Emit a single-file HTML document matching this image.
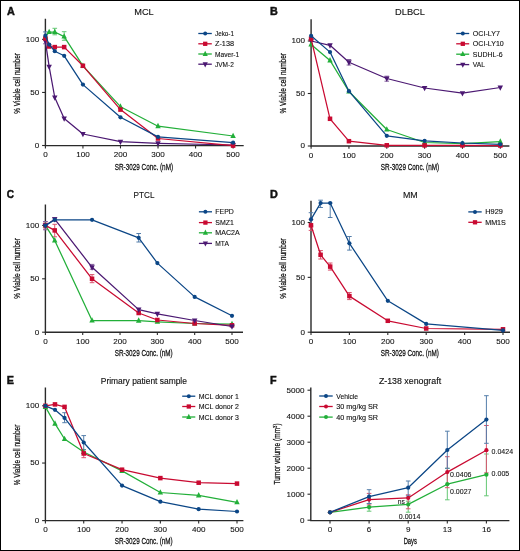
<!DOCTYPE html><html><head><meta charset="utf-8"><style>html,body{margin:0;padding:0;background:#fff}svg{display:block;will-change:transform}</style></head><body>
<svg width="520" height="551" viewBox="0 0 520 551" font-family="Liberation Sans, sans-serif">
<rect x="0" y="0" width="520" height="551" fill="#fff"/>
<rect x="0.5" y="0.5" width="519" height="550" fill="none" stroke="#000" stroke-width="1"/>
<text x="7" y="15" font-size="10.8" stroke="#111" stroke-width="0.45" font-weight="bold" fill="#111">A</text>
<text x="144" y="15.4" font-size="9.8" stroke="#111" stroke-width="0.12" text-anchor="middle" textLength="19.5" lengthAdjust="spacingAndGlyphs" fill="#111">MCL</text>
<path d="M45.4 18.8V145.6H243.7" stroke="#2a2a2a" stroke-width="1.4" fill="none"/>
<path d="M45.4 145.6V148.4" stroke="#2a2a2a" stroke-width="1.1"/>
<text x="45.4" y="157" font-size="8.1" stroke="#111" stroke-width="0.1" text-anchor="middle" fill="#111">0</text>
<path d="M82.94 145.6V148.4" stroke="#2a2a2a" stroke-width="1.1"/>
<text x="82.94" y="157" font-size="8.1" stroke="#111" stroke-width="0.1" text-anchor="middle" fill="#111">100</text>
<path d="M120.48 145.6V148.4" stroke="#2a2a2a" stroke-width="1.1"/>
<text x="120.48" y="157" font-size="8.1" stroke="#111" stroke-width="0.1" text-anchor="middle" fill="#111">200</text>
<path d="M158.02 145.6V148.4" stroke="#2a2a2a" stroke-width="1.1"/>
<text x="158.02" y="157" font-size="8.1" stroke="#111" stroke-width="0.1" text-anchor="middle" fill="#111">300</text>
<path d="M195.56 145.6V148.4" stroke="#2a2a2a" stroke-width="1.1"/>
<text x="195.56" y="157" font-size="8.1" stroke="#111" stroke-width="0.1" text-anchor="middle" fill="#111">400</text>
<path d="M233.1 145.6V148.4" stroke="#2a2a2a" stroke-width="1.1"/>
<text x="233.1" y="157" font-size="8.1" stroke="#111" stroke-width="0.1" text-anchor="middle" fill="#111">500</text>
<path d="M45.4 145.5H42.1" stroke="#2a2a2a" stroke-width="1.1"/>
<text x="39.2" y="147.8" font-size="8.1" stroke="#111" stroke-width="0.1" text-anchor="end" fill="#111">0</text>
<path d="M45.4 92.45H42.1" stroke="#2a2a2a" stroke-width="1.1"/>
<text x="39.2" y="94.75" font-size="8.1" stroke="#111" stroke-width="0.1" text-anchor="end" fill="#111">50</text>
<path d="M45.4 39.4H42.1" stroke="#2a2a2a" stroke-width="1.1"/>
<text x="39.2" y="41.7" font-size="8.1" stroke="#111" stroke-width="0.1" text-anchor="end" fill="#111">100</text>
<text x="20" y="83.4" font-size="9.9" stroke="#111" stroke-width="0.28" text-anchor="middle" textLength="60.7" lengthAdjust="spacingAndGlyphs" transform="rotate(-90 20 83.4)" fill="#111">% Viable cell number</text>
<text x="143.9" y="170" font-size="9.9" stroke="#111" stroke-width="0.28" text-anchor="middle" textLength="58.3" lengthAdjust="spacingAndGlyphs" fill="#111">SR-3029 Conc. (nM)</text>
<path d="M45.4 38.5V43.8M43.1 38.5H47.7M43.1 43.8H47.7" stroke="#815d9c" stroke-width="1" fill="none"/>
<path d="M54.78 28.3V34.8M52.48 28.3H57.08M52.48 34.8H57.08" stroke="#64c774" stroke-width="1" fill="none"/>
<path d="M64.17 31.7V40.3M61.87 31.7H66.47M61.87 40.3H66.47" stroke="#64c774" stroke-width="1" fill="none"/>
<path d="M45.4 31.9V38M43.1 31.9H47.7M43.1 38H47.7" stroke="#547eaa" stroke-width="1" fill="none"/>
<path d="M45.4 41.3 L49.15 66.7 L54.78 97.5 L64.17 118.5 L82.94 134 L120.48 141.7 L158.02 143.3 L233.1 145" fill="none" stroke="#4b1872" stroke-width="1.25" stroke-linejoin="round"/>
<path d="M45.4 44.66L48.13 39.3L42.67 39.3Z" fill="#4b1872"/>
<path d="M49.15 70.06L51.88 64.7L46.42 64.7Z" fill="#4b1872"/>
<path d="M54.78 100.86L57.52 95.5L52.05 95.5Z" fill="#4b1872"/>
<path d="M64.17 121.86L66.9 116.5L61.44 116.5Z" fill="#4b1872"/>
<path d="M82.94 137.36L85.67 132L80.21 132Z" fill="#4b1872"/>
<path d="M120.48 145.06L123.21 139.7L117.75 139.7Z" fill="#4b1872"/>
<path d="M158.02 146.66L160.75 141.31L155.29 141.31Z" fill="#4b1872"/>
<path d="M233.1 148.36L235.83 143L230.37 143Z" fill="#4b1872"/>
<path d="M45.4 36.5 L49.15 32 L54.78 32 L64.17 36.6 L82.94 65.8 L120.48 106.7 L158.02 126.2 L233.1 136" fill="none" stroke="#22af39" stroke-width="1.25" stroke-linejoin="round"/>
<path d="M45.4 33.14L48.13 38.49L42.67 38.49Z" fill="#22af39"/>
<path d="M49.15 28.64L51.88 33.99L46.42 33.99Z" fill="#22af39"/>
<path d="M54.78 28.64L57.52 33.99L52.05 33.99Z" fill="#22af39"/>
<path d="M64.17 33.24L66.9 38.59L61.44 38.59Z" fill="#22af39"/>
<path d="M82.94 62.44L85.67 67.8L80.21 67.8Z" fill="#22af39"/>
<path d="M120.48 103.34L123.21 108.7L117.75 108.7Z" fill="#22af39"/>
<path d="M158.02 122.84L160.75 128.19L155.29 128.19Z" fill="#22af39"/>
<path d="M233.1 132.64L235.83 138L230.37 138Z" fill="#22af39"/>
<path d="M45.4 38.5 L49.15 46.5 L54.78 47.1 L64.17 47.1 L82.94 65.8 L120.48 109.6 L158.02 138.5 L233.1 145.6" fill="none" stroke="#c90a31" stroke-width="1.25" stroke-linejoin="round"/>
<rect x="43.14" y="36.24" width="4.51" height="4.51" fill="#c90a31"/>
<rect x="46.9" y="44.24" width="4.51" height="4.51" fill="#c90a31"/>
<rect x="52.53" y="44.84" width="4.51" height="4.51" fill="#c90a31"/>
<rect x="61.91" y="44.84" width="4.51" height="4.51" fill="#c90a31"/>
<rect x="80.68" y="63.54" width="4.51" height="4.51" fill="#c90a31"/>
<rect x="118.22" y="107.34" width="4.51" height="4.51" fill="#c90a31"/>
<rect x="155.76" y="136.24" width="4.51" height="4.51" fill="#c90a31"/>
<rect x="230.84" y="143.34" width="4.51" height="4.51" fill="#c90a31"/>
<path d="M45.4 35.7 L49.15 44.6 L54.78 51.2 L64.17 55.8 L82.94 84.6 L120.48 117.3 L158.02 136.9 L233.1 142.7" fill="none" stroke="#0b4686" stroke-width="1.25" stroke-linejoin="round"/>
<circle cx="45.4" cy="35.7" r="2.1" fill="#0b4686"/>
<circle cx="49.15" cy="44.6" r="2.1" fill="#0b4686"/>
<circle cx="54.78" cy="51.2" r="2.1" fill="#0b4686"/>
<circle cx="64.17" cy="55.8" r="2.1" fill="#0b4686"/>
<circle cx="82.94" cy="84.6" r="2.1" fill="#0b4686"/>
<circle cx="120.48" cy="117.3" r="2.1" fill="#0b4686"/>
<circle cx="158.02" cy="136.9" r="2.1" fill="#0b4686"/>
<circle cx="233.1" cy="142.7" r="2.1" fill="#0b4686"/>
<path d="M198.3 33.5H211.8" stroke="#0b4686" stroke-width="1.3"/>
<circle cx="205.2" cy="33.5" r="1.99" fill="#0b4686"/>
<text x="215" y="36" font-size="7.8" stroke="#111" stroke-width="0.12" textLength="19" lengthAdjust="spacingAndGlyphs" fill="#111">Jeko-1</text>
<path d="M198.3 43.8H211.8" stroke="#c90a31" stroke-width="1.3"/>
<rect x="203.06" y="41.66" width="4.29" height="4.29" fill="#c90a31"/>
<text x="215" y="46.3" font-size="7.8" stroke="#111" stroke-width="0.12" textLength="19" lengthAdjust="spacingAndGlyphs" fill="#111">Z-138</text>
<path d="M198.3 54H211.8" stroke="#22af39" stroke-width="1.3"/>
<path d="M205.2 50.81L207.79 55.9L202.61 55.9Z" fill="#22af39"/>
<text x="215" y="56.5" font-size="7.8" stroke="#111" stroke-width="0.12" textLength="24.2" lengthAdjust="spacingAndGlyphs" fill="#111">Maver-1</text>
<path d="M198.3 64.2H211.8" stroke="#4b1872" stroke-width="1.3"/>
<path d="M205.2 67.39L207.79 62.3L202.61 62.3Z" fill="#4b1872"/>
<text x="215" y="66.7" font-size="7.8" stroke="#111" stroke-width="0.12" textLength="18.8" lengthAdjust="spacingAndGlyphs" fill="#111">JVM-2</text>
<text x="270" y="15" font-size="10.8" stroke="#111" stroke-width="0.45" font-weight="bold" fill="#111">B</text>
<text x="410" y="15.4" font-size="9.8" stroke="#111" stroke-width="0.12" text-anchor="middle" textLength="30" lengthAdjust="spacingAndGlyphs" fill="#111">DLBCL</text>
<path d="M311.1 19.2V146H509.4" stroke="#2a2a2a" stroke-width="1.4" fill="none"/>
<path d="M311.1 146V148.8" stroke="#2a2a2a" stroke-width="1.1"/>
<text x="311.1" y="157.6" font-size="8.1" stroke="#111" stroke-width="0.1" text-anchor="middle" fill="#111">0</text>
<path d="M348.94 146V148.8" stroke="#2a2a2a" stroke-width="1.1"/>
<text x="348.94" y="157.6" font-size="8.1" stroke="#111" stroke-width="0.1" text-anchor="middle" fill="#111">100</text>
<path d="M386.78 146V148.8" stroke="#2a2a2a" stroke-width="1.1"/>
<text x="386.78" y="157.6" font-size="8.1" stroke="#111" stroke-width="0.1" text-anchor="middle" fill="#111">200</text>
<path d="M424.62 146V148.8" stroke="#2a2a2a" stroke-width="1.1"/>
<text x="424.62" y="157.6" font-size="8.1" stroke="#111" stroke-width="0.1" text-anchor="middle" fill="#111">300</text>
<path d="M462.46 146V148.8" stroke="#2a2a2a" stroke-width="1.1"/>
<text x="462.46" y="157.6" font-size="8.1" stroke="#111" stroke-width="0.1" text-anchor="middle" fill="#111">400</text>
<path d="M500.3 146V148.8" stroke="#2a2a2a" stroke-width="1.1"/>
<text x="500.3" y="157.6" font-size="8.1" stroke="#111" stroke-width="0.1" text-anchor="middle" fill="#111">500</text>
<path d="M311.1 146H307.8" stroke="#2a2a2a" stroke-width="1.1"/>
<text x="304.9" y="148.3" font-size="8.1" stroke="#111" stroke-width="0.1" text-anchor="end" fill="#111">0</text>
<path d="M311.1 93.5H307.8" stroke="#2a2a2a" stroke-width="1.1"/>
<text x="304.9" y="95.8" font-size="8.1" stroke="#111" stroke-width="0.1" text-anchor="end" fill="#111">50</text>
<path d="M311.1 41H307.8" stroke="#2a2a2a" stroke-width="1.1"/>
<text x="304.9" y="43.3" font-size="8.1" stroke="#111" stroke-width="0.1" text-anchor="end" fill="#111">100</text>
<text x="285.9" y="83.3" font-size="9.9" stroke="#111" stroke-width="0.28" text-anchor="middle" textLength="60.4" lengthAdjust="spacingAndGlyphs" transform="rotate(-90 285.9 83.3)" fill="#111">% Viable cell number</text>
<text x="410" y="169.9" font-size="9.9" stroke="#111" stroke-width="0.28" text-anchor="middle" textLength="58.4" lengthAdjust="spacingAndGlyphs" fill="#111">SR-3029 Conc. (nM)</text>
<path d="M348.94 59.5V65M346.64 59.5H351.24M346.64 65H351.24" stroke="#815d9c" stroke-width="1" fill="none"/>
<path d="M386.78 76.2V81.2M384.48 76.2H389.08M384.48 81.2H389.08" stroke="#815d9c" stroke-width="1" fill="none"/>
<path d="M311.1 41 L330.02 45.3 L348.94 62.3 L386.78 78.5 L424.62 88 L462.46 93.2 L500.3 87.5" fill="none" stroke="#4b1872" stroke-width="1.25" stroke-linejoin="round"/>
<path d="M311.1 44.36L313.83 39.01L308.37 39.01Z" fill="#4b1872"/>
<path d="M330.02 48.66L332.75 43.3L327.29 43.3Z" fill="#4b1872"/>
<path d="M348.94 65.66L351.67 60.3L346.21 60.3Z" fill="#4b1872"/>
<path d="M386.78 81.86L389.51 76.5L384.05 76.5Z" fill="#4b1872"/>
<path d="M424.62 91.36L427.35 86L421.89 86Z" fill="#4b1872"/>
<path d="M462.46 96.56L465.19 91.2L459.73 91.2Z" fill="#4b1872"/>
<path d="M500.3 90.86L503.03 85.5L497.57 85.5Z" fill="#4b1872"/>
<path d="M311.1 44.4 L330.02 60.4 L348.94 91.5 L386.78 129.5 L424.62 142.5 L462.46 143.7 L500.3 141.7" fill="none" stroke="#22af39" stroke-width="1.25" stroke-linejoin="round"/>
<path d="M311.1 41.04L313.83 46.39L308.37 46.39Z" fill="#22af39"/>
<path d="M330.02 57.04L332.75 62.39L327.29 62.39Z" fill="#22af39"/>
<path d="M348.94 88.14L351.67 93.5L346.21 93.5Z" fill="#22af39"/>
<path d="M386.78 126.14L389.51 131.5L384.05 131.5Z" fill="#22af39"/>
<path d="M424.62 139.14L427.35 144.5L421.89 144.5Z" fill="#22af39"/>
<path d="M462.46 140.34L465.19 145.69L459.73 145.69Z" fill="#22af39"/>
<path d="M500.3 138.34L503.03 143.69L497.57 143.69Z" fill="#22af39"/>
<path d="M311.1 38.7 L330.02 118.8 L348.94 141.2 L386.78 145.3 L424.62 145.4 L462.46 145.4 L500.3 145.5" fill="none" stroke="#c90a31" stroke-width="1.25" stroke-linejoin="round"/>
<rect x="308.84" y="36.44" width="4.51" height="4.51" fill="#c90a31"/>
<rect x="327.76" y="116.54" width="4.51" height="4.51" fill="#c90a31"/>
<rect x="346.68" y="138.94" width="4.51" height="4.51" fill="#c90a31"/>
<rect x="384.52" y="143.04" width="4.51" height="4.51" fill="#c90a31"/>
<rect x="422.36" y="143.14" width="4.51" height="4.51" fill="#c90a31"/>
<rect x="460.2" y="143.14" width="4.51" height="4.51" fill="#c90a31"/>
<rect x="498.04" y="143.24" width="4.51" height="4.51" fill="#c90a31"/>
<path d="M311.1 35.8 L330.02 52.1 L348.94 91.2 L386.78 135.8 L424.62 140.8 L462.46 143 L500.3 144.3" fill="none" stroke="#0b4686" stroke-width="1.25" stroke-linejoin="round"/>
<circle cx="311.1" cy="35.8" r="2.1" fill="#0b4686"/>
<circle cx="330.02" cy="52.1" r="2.1" fill="#0b4686"/>
<circle cx="348.94" cy="91.2" r="2.1" fill="#0b4686"/>
<circle cx="386.78" cy="135.8" r="2.1" fill="#0b4686"/>
<circle cx="424.62" cy="140.8" r="2.1" fill="#0b4686"/>
<circle cx="462.46" cy="143" r="2.1" fill="#0b4686"/>
<circle cx="500.3" cy="144.3" r="2.1" fill="#0b4686"/>
<path d="M456.2 33.5H469.2" stroke="#0b4686" stroke-width="1.3"/>
<circle cx="462.8" cy="33.5" r="1.99" fill="#0b4686"/>
<text x="472.8" y="36" font-size="7.8" stroke="#111" stroke-width="0.12" textLength="27.1" lengthAdjust="spacingAndGlyphs" fill="#111">OCI-LY7</text>
<path d="M456.2 43.8H469.2" stroke="#c90a31" stroke-width="1.3"/>
<rect x="460.66" y="41.66" width="4.29" height="4.29" fill="#c90a31"/>
<text x="472.8" y="46.3" font-size="7.8" stroke="#111" stroke-width="0.12" textLength="31" lengthAdjust="spacingAndGlyphs" fill="#111">OCI-LY10</text>
<path d="M456.2 54.2H469.2" stroke="#22af39" stroke-width="1.3"/>
<path d="M462.8 51.01L465.39 56.1L460.21 56.1Z" fill="#22af39"/>
<text x="472.8" y="56.7" font-size="7.8" stroke="#111" stroke-width="0.12" textLength="29.8" lengthAdjust="spacingAndGlyphs" fill="#111">SUDHL-6</text>
<path d="M456.2 64.6H469.2" stroke="#4b1872" stroke-width="1.3"/>
<path d="M462.8 67.79L465.39 62.7L460.21 62.7Z" fill="#4b1872"/>
<text x="472.8" y="67.1" font-size="7.8" stroke="#111" stroke-width="0.12" textLength="12.2" lengthAdjust="spacingAndGlyphs" fill="#111">VAL</text>
<text x="6.8" y="197.7" font-size="10.8" stroke="#111" stroke-width="0.45" textLength="7.3" lengthAdjust="spacingAndGlyphs" font-weight="bold" fill="#111">C</text>
<text x="144" y="197.5" font-size="9.8" stroke="#111" stroke-width="0.12" text-anchor="middle" textLength="20.9" lengthAdjust="spacingAndGlyphs" fill="#111">PTCL</text>
<path d="M45.4 204.6V332.2H243" stroke="#2a2a2a" stroke-width="1.4" fill="none"/>
<path d="M45.4 332.2V335" stroke="#2a2a2a" stroke-width="1.1"/>
<text x="45.4" y="343.6" font-size="8.1" stroke="#111" stroke-width="0.1" text-anchor="middle" fill="#111">0</text>
<path d="M82.72 332.2V335" stroke="#2a2a2a" stroke-width="1.1"/>
<text x="82.72" y="343.6" font-size="8.1" stroke="#111" stroke-width="0.1" text-anchor="middle" fill="#111">100</text>
<path d="M120.04 332.2V335" stroke="#2a2a2a" stroke-width="1.1"/>
<text x="120.04" y="343.6" font-size="8.1" stroke="#111" stroke-width="0.1" text-anchor="middle" fill="#111">200</text>
<path d="M157.36 332.2V335" stroke="#2a2a2a" stroke-width="1.1"/>
<text x="157.36" y="343.6" font-size="8.1" stroke="#111" stroke-width="0.1" text-anchor="middle" fill="#111">300</text>
<path d="M194.68 332.2V335" stroke="#2a2a2a" stroke-width="1.1"/>
<text x="194.68" y="343.6" font-size="8.1" stroke="#111" stroke-width="0.1" text-anchor="middle" fill="#111">400</text>
<path d="M232 332.2V335" stroke="#2a2a2a" stroke-width="1.1"/>
<text x="232" y="343.6" font-size="8.1" stroke="#111" stroke-width="0.1" text-anchor="middle" fill="#111">500</text>
<path d="M45.4 332.2H42.1" stroke="#2a2a2a" stroke-width="1.1"/>
<text x="39.2" y="334.5" font-size="8.1" stroke="#111" stroke-width="0.1" text-anchor="end" fill="#111">0</text>
<path d="M45.4 278.8H42.1" stroke="#2a2a2a" stroke-width="1.1"/>
<text x="39.2" y="281.1" font-size="8.1" stroke="#111" stroke-width="0.1" text-anchor="end" fill="#111">50</text>
<path d="M45.4 225.4H42.1" stroke="#2a2a2a" stroke-width="1.1"/>
<text x="39.2" y="227.7" font-size="8.1" stroke="#111" stroke-width="0.1" text-anchor="end" fill="#111">100</text>
<text x="20" y="268.5" font-size="9.9" stroke="#111" stroke-width="0.28" text-anchor="middle" textLength="60.7" lengthAdjust="spacingAndGlyphs" transform="rotate(-90 20 268.5)" fill="#111">% Viable cell number</text>
<text x="143.7" y="356.1" font-size="9.9" stroke="#111" stroke-width="0.28" text-anchor="middle" textLength="58" lengthAdjust="spacingAndGlyphs" fill="#111">SR-3029 Conc. (nM)</text>
<path d="M54.73 224.3V236.8M52.43 224.3H57.03M52.43 236.8H57.03" stroke="#d9546f" stroke-width="1" fill="none"/>
<path d="M92.05 274.6V282.7M89.75 274.6H94.35M89.75 282.7H94.35" stroke="#d9546f" stroke-width="1" fill="none"/>
<path d="M45.4 222V229M43.1 222H47.7M43.1 229H47.7" stroke="#d9546f" stroke-width="1" fill="none"/>
<path d="M45.4 221.5V229.8M43.1 221.5H47.7M43.1 229.8H47.7" stroke="#815d9c" stroke-width="1" fill="none"/>
<path d="M92.05 264.4V269.2M89.75 264.4H94.35M89.75 269.2H94.35" stroke="#815d9c" stroke-width="1" fill="none"/>
<path d="M54.73 217.5V221M52.43 217.5H57.03M52.43 221H57.03" stroke="#815d9c" stroke-width="1" fill="none"/>
<path d="M138.7 233.5V242M136.4 233.5H141M136.4 242H141" stroke="#547eaa" stroke-width="1" fill="none"/>
<path d="M45.4 225.4 L54.73 240.4 L92.05 320.6 L138.7 320.7 L157.36 321.8 L194.68 323.5 L232 324.2" fill="none" stroke="#22af39" stroke-width="1.25" stroke-linejoin="round"/>
<path d="M45.4 222.04L48.13 227.4L42.67 227.4Z" fill="#22af39"/>
<path d="M54.73 237.04L57.46 242.4L52 242.4Z" fill="#22af39"/>
<path d="M92.05 317.24L94.78 322.6L89.32 322.6Z" fill="#22af39"/>
<path d="M138.7 317.34L141.43 322.69L135.97 322.69Z" fill="#22af39"/>
<path d="M157.36 318.44L160.09 323.8L154.63 323.8Z" fill="#22af39"/>
<path d="M194.68 320.14L197.41 325.5L191.95 325.5Z" fill="#22af39"/>
<path d="M232 320.84L234.73 326.19L229.27 326.19Z" fill="#22af39"/>
<path d="M45.4 225.4 L54.73 230.4 L92.05 278.8 L138.7 313 L157.36 320 L194.68 323.5 L232 325.3" fill="none" stroke="#c90a31" stroke-width="1.25" stroke-linejoin="round"/>
<rect x="43.14" y="223.14" width="4.51" height="4.51" fill="#c90a31"/>
<rect x="52.47" y="228.14" width="4.51" height="4.51" fill="#c90a31"/>
<rect x="89.79" y="276.54" width="4.51" height="4.51" fill="#c90a31"/>
<rect x="136.44" y="310.74" width="4.51" height="4.51" fill="#c90a31"/>
<rect x="155.1" y="317.74" width="4.51" height="4.51" fill="#c90a31"/>
<rect x="192.42" y="321.24" width="4.51" height="4.51" fill="#c90a31"/>
<rect x="229.74" y="323.04" width="4.51" height="4.51" fill="#c90a31"/>
<path d="M45.4 225.4 L54.73 219.2 L92.05 267.3 L138.7 309.6 L157.36 313.8 L194.68 320.5 L232 326.5" fill="none" stroke="#4b1872" stroke-width="1.25" stroke-linejoin="round"/>
<path d="M45.4 228.76L48.13 223.41L42.67 223.41Z" fill="#4b1872"/>
<path d="M54.73 222.56L57.46 217.2L52 217.2Z" fill="#4b1872"/>
<path d="M92.05 270.66L94.78 265.31L89.32 265.31Z" fill="#4b1872"/>
<path d="M138.7 312.96L141.43 307.61L135.97 307.61Z" fill="#4b1872"/>
<path d="M157.36 317.16L160.09 311.81L154.63 311.81Z" fill="#4b1872"/>
<path d="M194.68 323.86L197.41 318.5L191.95 318.5Z" fill="#4b1872"/>
<path d="M232 329.86L234.73 324.5L229.27 324.5Z" fill="#4b1872"/>
<path d="M45.4 225.6 L54.73 219.8 L92.05 219.8 L138.7 237.8 L157.36 263.1 L194.68 296.9 L232 315.8" fill="none" stroke="#0b4686" stroke-width="1.25" stroke-linejoin="round"/>
<circle cx="45.4" cy="225.6" r="2.1" fill="#0b4686"/>
<circle cx="54.73" cy="219.8" r="2.1" fill="#0b4686"/>
<circle cx="92.05" cy="219.8" r="2.1" fill="#0b4686"/>
<circle cx="138.7" cy="237.8" r="2.1" fill="#0b4686"/>
<circle cx="157.36" cy="263.1" r="2.1" fill="#0b4686"/>
<circle cx="194.68" cy="296.9" r="2.1" fill="#0b4686"/>
<circle cx="232" cy="315.8" r="2.1" fill="#0b4686"/>
<path d="M198.9 211.8H212" stroke="#0b4686" stroke-width="1.3"/>
<circle cx="205.4" cy="211.8" r="1.99" fill="#0b4686"/>
<text x="215.3" y="214.3" font-size="7.8" stroke="#111" stroke-width="0.12" textLength="18.5" lengthAdjust="spacingAndGlyphs" fill="#111">FEPD</text>
<path d="M198.9 222.6H212" stroke="#c90a31" stroke-width="1.3"/>
<rect x="203.26" y="220.46" width="4.29" height="4.29" fill="#c90a31"/>
<text x="215.3" y="225.1" font-size="7.8" stroke="#111" stroke-width="0.12" textLength="18.5" lengthAdjust="spacingAndGlyphs" fill="#111">SMZ1</text>
<path d="M198.9 232.8H212" stroke="#22af39" stroke-width="1.3"/>
<path d="M205.4 229.61L207.99 234.7L202.81 234.7Z" fill="#22af39"/>
<text x="215.3" y="235.3" font-size="7.8" stroke="#111" stroke-width="0.12" textLength="24.4" lengthAdjust="spacingAndGlyphs" fill="#111">MAC2A</text>
<path d="M198.9 243.4H212" stroke="#4b1872" stroke-width="1.3"/>
<path d="M205.4 246.59L207.99 241.5L202.81 241.5Z" fill="#4b1872"/>
<text x="215.3" y="245.9" font-size="7.8" stroke="#111" stroke-width="0.12" textLength="13.6" lengthAdjust="spacingAndGlyphs" fill="#111">MTA</text>
<text x="270" y="197.8" font-size="10.8" stroke="#111" stroke-width="0.45" font-weight="bold" fill="#111">D</text>
<text x="410.3" y="197.7" font-size="9.8" stroke="#111" stroke-width="0.12" text-anchor="middle" textLength="14.8" lengthAdjust="spacingAndGlyphs" fill="#111">MM</text>
<path d="M311 200.8V332.2H510" stroke="#2a2a2a" stroke-width="1.4" fill="none"/>
<path d="M311 332.2V335" stroke="#2a2a2a" stroke-width="1.1"/>
<text x="311" y="343.6" font-size="8.1" stroke="#111" stroke-width="0.1" text-anchor="middle" fill="#111">0</text>
<path d="M349.4 332.2V335" stroke="#2a2a2a" stroke-width="1.1"/>
<text x="349.4" y="343.6" font-size="8.1" stroke="#111" stroke-width="0.1" text-anchor="middle" fill="#111">100</text>
<path d="M387.8 332.2V335" stroke="#2a2a2a" stroke-width="1.1"/>
<text x="387.8" y="343.6" font-size="8.1" stroke="#111" stroke-width="0.1" text-anchor="middle" fill="#111">200</text>
<path d="M426.2 332.2V335" stroke="#2a2a2a" stroke-width="1.1"/>
<text x="426.2" y="343.6" font-size="8.1" stroke="#111" stroke-width="0.1" text-anchor="middle" fill="#111">300</text>
<path d="M464.6 332.2V335" stroke="#2a2a2a" stroke-width="1.1"/>
<text x="464.6" y="343.6" font-size="8.1" stroke="#111" stroke-width="0.1" text-anchor="middle" fill="#111">400</text>
<path d="M503 332.2V335" stroke="#2a2a2a" stroke-width="1.1"/>
<text x="503" y="343.6" font-size="8.1" stroke="#111" stroke-width="0.1" text-anchor="middle" fill="#111">500</text>
<path d="M311 332.2H307.7" stroke="#2a2a2a" stroke-width="1.1"/>
<text x="304.9" y="334.5" font-size="8.1" stroke="#111" stroke-width="0.1" text-anchor="end" fill="#111">0</text>
<path d="M311 277.35H307.7" stroke="#2a2a2a" stroke-width="1.1"/>
<text x="304.9" y="279.65" font-size="8.1" stroke="#111" stroke-width="0.1" text-anchor="end" fill="#111">50</text>
<path d="M311 222.5H307.7" stroke="#2a2a2a" stroke-width="1.1"/>
<text x="304.9" y="224.8" font-size="8.1" stroke="#111" stroke-width="0.1" text-anchor="end" fill="#111">100</text>
<text x="285.9" y="268.5" font-size="9.9" stroke="#111" stroke-width="0.28" text-anchor="middle" textLength="60.4" lengthAdjust="spacingAndGlyphs" transform="rotate(-90 285.9 268.5)" fill="#111">% Viable cell number</text>
<text x="409.8" y="356.1" font-size="9.9" stroke="#111" stroke-width="0.28" text-anchor="middle" textLength="58" lengthAdjust="spacingAndGlyphs" fill="#111">SR-3029 Conc. (nM)</text>
<path d="M311 219.4V230.4M308.7 219.4H313.3M308.7 230.4H313.3" stroke="#d9546f" stroke-width="1" fill="none"/>
<path d="M320.6 250.6V259M318.3 250.6H322.9M318.3 259H322.9" stroke="#d9546f" stroke-width="1" fill="none"/>
<path d="M330.2 263V270.1M327.9 263H332.5M327.9 270.1H332.5" stroke="#d9546f" stroke-width="1" fill="none"/>
<path d="M349.4 292.5V299.6M347.1 292.5H351.7M347.1 299.6H351.7" stroke="#d9546f" stroke-width="1" fill="none"/>
<path d="M311 212.7V226M308.7 212.7H313.3M308.7 226H313.3" stroke="#547eaa" stroke-width="1" fill="none"/>
<path d="M320.6 200.2V207.5M318.3 200.2H322.9M318.3 207.5H322.9" stroke="#547eaa" stroke-width="1" fill="none"/>
<path d="M330.2 203.1V217.5M327.9 203.1H332.5M327.9 217.5H332.5" stroke="#547eaa" stroke-width="1" fill="none"/>
<path d="M349.4 236.5V250.1M347.1 236.5H351.7M347.1 250.1H351.7" stroke="#547eaa" stroke-width="1" fill="none"/>
<path d="M311 225.3 L320.6 254.8 L330.2 266.6 L349.4 296.1 L387.8 320.8 L426.2 328.5 L503 329.3" fill="none" stroke="#c90a31" stroke-width="1.25" stroke-linejoin="round"/>
<rect x="308.74" y="223.04" width="4.51" height="4.51" fill="#c90a31"/>
<rect x="318.34" y="252.54" width="4.51" height="4.51" fill="#c90a31"/>
<rect x="327.94" y="264.34" width="4.51" height="4.51" fill="#c90a31"/>
<rect x="347.14" y="293.84" width="4.51" height="4.51" fill="#c90a31"/>
<rect x="385.54" y="318.54" width="4.51" height="4.51" fill="#c90a31"/>
<rect x="423.94" y="326.24" width="4.51" height="4.51" fill="#c90a31"/>
<rect x="500.74" y="327.04" width="4.51" height="4.51" fill="#c90a31"/>
<path d="M311 219.4 L320.6 203.1 L330.2 203.1 L349.4 243.3 L387.8 300.8 L426.2 323.9 L503 330.4" fill="none" stroke="#0b4686" stroke-width="1.25" stroke-linejoin="round"/>
<circle cx="311" cy="219.4" r="2.1" fill="#0b4686"/>
<circle cx="320.6" cy="203.1" r="2.1" fill="#0b4686"/>
<circle cx="330.2" cy="203.1" r="2.1" fill="#0b4686"/>
<circle cx="349.4" cy="243.3" r="2.1" fill="#0b4686"/>
<circle cx="387.8" cy="300.8" r="2.1" fill="#0b4686"/>
<circle cx="426.2" cy="323.9" r="2.1" fill="#0b4686"/>
<circle cx="503" cy="330.4" r="2.1" fill="#0b4686"/>
<path d="M468.3 211.9H481.7" stroke="#0b4686" stroke-width="1.3"/>
<circle cx="475" cy="211.9" r="1.99" fill="#0b4686"/>
<text x="485.2" y="214.4" font-size="7.8" stroke="#111" stroke-width="0.12" textLength="17.7" lengthAdjust="spacingAndGlyphs" fill="#111">H929</text>
<path d="M468.3 222.3H481.7" stroke="#c90a31" stroke-width="1.3"/>
<rect x="472.86" y="220.16" width="4.29" height="4.29" fill="#c90a31"/>
<text x="485.2" y="224.8" font-size="7.8" stroke="#111" stroke-width="0.12" textLength="20.7" lengthAdjust="spacingAndGlyphs" fill="#111">MM1S</text>
<text x="6.7" y="383.6" font-size="10.8" stroke="#111" stroke-width="0.45" font-weight="bold" fill="#111">E</text>
<text x="143.85" y="384.4" font-size="9.6" stroke="#111" stroke-width="0.15" text-anchor="middle" textLength="86.1" lengthAdjust="spacingAndGlyphs" fill="#111">Primary patient sample</text>
<path d="M45.4 387.5V520.6H243.4" stroke="#2a2a2a" stroke-width="1.4" fill="none"/>
<path d="M45.4 520.6V523.4" stroke="#2a2a2a" stroke-width="1.1"/>
<text x="45.4" y="531.9" font-size="8.1" stroke="#111" stroke-width="0.1" text-anchor="middle" fill="#111">0</text>
<path d="M83.72 520.6V523.4" stroke="#2a2a2a" stroke-width="1.1"/>
<text x="83.72" y="531.9" font-size="8.1" stroke="#111" stroke-width="0.1" text-anchor="middle" fill="#111">100</text>
<path d="M122.04 520.6V523.4" stroke="#2a2a2a" stroke-width="1.1"/>
<text x="122.04" y="531.9" font-size="8.1" stroke="#111" stroke-width="0.1" text-anchor="middle" fill="#111">200</text>
<path d="M160.36 520.6V523.4" stroke="#2a2a2a" stroke-width="1.1"/>
<text x="160.36" y="531.9" font-size="8.1" stroke="#111" stroke-width="0.1" text-anchor="middle" fill="#111">300</text>
<path d="M198.68 520.6V523.4" stroke="#2a2a2a" stroke-width="1.1"/>
<text x="198.68" y="531.9" font-size="8.1" stroke="#111" stroke-width="0.1" text-anchor="middle" fill="#111">400</text>
<path d="M237 520.6V523.4" stroke="#2a2a2a" stroke-width="1.1"/>
<text x="237" y="531.9" font-size="8.1" stroke="#111" stroke-width="0.1" text-anchor="middle" fill="#111">500</text>
<path d="M45.4 520.6H42.1" stroke="#2a2a2a" stroke-width="1.1"/>
<text x="39.2" y="522.9" font-size="8.1" stroke="#111" stroke-width="0.1" text-anchor="end" fill="#111">0</text>
<path d="M45.4 463.05H42.1" stroke="#2a2a2a" stroke-width="1.1"/>
<text x="39.2" y="465.35" font-size="8.1" stroke="#111" stroke-width="0.1" text-anchor="end" fill="#111">50</text>
<path d="M45.4 405.8H42.1" stroke="#2a2a2a" stroke-width="1.1"/>
<text x="39.2" y="408.1" font-size="8.1" stroke="#111" stroke-width="0.1" text-anchor="end" fill="#111">100</text>
<text x="20" y="455" font-size="9.9" stroke="#111" stroke-width="0.28" text-anchor="middle" textLength="60.7" lengthAdjust="spacingAndGlyphs" transform="rotate(-90 20 455)" fill="#111">% Viable cell number</text>
<text x="143.7" y="544.2" font-size="9.9" stroke="#111" stroke-width="0.28" text-anchor="middle" textLength="58" lengthAdjust="spacingAndGlyphs" fill="#111">SR-3029 Conc. (nM)</text>
<path d="M83.72 451.2V457.7M81.42 451.2H86.02M81.42 457.7H86.02" stroke="#d9546f" stroke-width="1" fill="none"/>
<path d="M64.56 412.7V422.7M62.26 412.7H66.86M62.26 422.7H66.86" stroke="#547eaa" stroke-width="1" fill="none"/>
<path d="M83.72 435.6V449.6M81.42 435.6H86.02M81.42 449.6H86.02" stroke="#547eaa" stroke-width="1" fill="none"/>
<path d="M45.4 406.9 L54.98 423.7 L64.56 439 L83.72 452 L122.04 470.9 L160.36 492.5 L198.68 495.4 L237 502.3" fill="none" stroke="#22af39" stroke-width="1.25" stroke-linejoin="round"/>
<path d="M45.4 403.54L48.13 408.89L42.67 408.89Z" fill="#22af39"/>
<path d="M54.98 420.34L57.71 425.69L52.25 425.69Z" fill="#22af39"/>
<path d="M64.56 435.64L67.29 441L61.83 441Z" fill="#22af39"/>
<path d="M83.72 448.64L86.45 454L80.99 454Z" fill="#22af39"/>
<path d="M122.04 467.54L124.77 472.89L119.31 472.89Z" fill="#22af39"/>
<path d="M160.36 489.14L163.09 494.5L157.63 494.5Z" fill="#22af39"/>
<path d="M198.68 492.04L201.41 497.39L195.95 497.39Z" fill="#22af39"/>
<path d="M237 498.94L239.73 504.3L234.27 504.3Z" fill="#22af39"/>
<path d="M45.4 405.8 L54.98 404.4 L64.56 406.9 L83.72 453.5 L122.04 469.7 L160.36 478.1 L198.68 482.7 L237 483.6" fill="none" stroke="#c90a31" stroke-width="1.25" stroke-linejoin="round"/>
<rect x="43.14" y="403.54" width="4.51" height="4.51" fill="#c90a31"/>
<rect x="52.72" y="402.14" width="4.51" height="4.51" fill="#c90a31"/>
<rect x="62.3" y="404.64" width="4.51" height="4.51" fill="#c90a31"/>
<rect x="81.46" y="451.24" width="4.51" height="4.51" fill="#c90a31"/>
<rect x="119.78" y="467.44" width="4.51" height="4.51" fill="#c90a31"/>
<rect x="158.1" y="475.84" width="4.51" height="4.51" fill="#c90a31"/>
<rect x="196.42" y="480.44" width="4.51" height="4.51" fill="#c90a31"/>
<rect x="234.74" y="481.34" width="4.51" height="4.51" fill="#c90a31"/>
<path d="M45.4 405.8 L54.98 409.8 L64.56 417.9 L83.72 442.5 L122.04 485.6 L160.36 501.7 L198.68 509.2 L237 511.5" fill="none" stroke="#0b4686" stroke-width="1.25" stroke-linejoin="round"/>
<circle cx="45.4" cy="405.8" r="2.1" fill="#0b4686"/>
<circle cx="54.98" cy="409.8" r="2.1" fill="#0b4686"/>
<circle cx="64.56" cy="417.9" r="2.1" fill="#0b4686"/>
<circle cx="83.72" cy="442.5" r="2.1" fill="#0b4686"/>
<circle cx="122.04" cy="485.6" r="2.1" fill="#0b4686"/>
<circle cx="160.36" cy="501.7" r="2.1" fill="#0b4686"/>
<circle cx="198.68" cy="509.2" r="2.1" fill="#0b4686"/>
<circle cx="237" cy="511.5" r="2.1" fill="#0b4686"/>
<path d="M182.2 396.2H195.3" stroke="#0b4686" stroke-width="1.3"/>
<circle cx="188.8" cy="396.2" r="1.99" fill="#0b4686"/>
<text x="198.8" y="398.7" font-size="7.8" stroke="#111" stroke-width="0.12" textLength="40" lengthAdjust="spacingAndGlyphs" fill="#111">MCL donor 1</text>
<path d="M182.2 406.5H195.3" stroke="#c90a31" stroke-width="1.3"/>
<rect x="186.66" y="404.36" width="4.29" height="4.29" fill="#c90a31"/>
<text x="198.8" y="409" font-size="7.8" stroke="#111" stroke-width="0.12" textLength="40" lengthAdjust="spacingAndGlyphs" fill="#111">MCL donor 2</text>
<path d="M182.2 417H195.3" stroke="#22af39" stroke-width="1.3"/>
<path d="M188.8 413.81L191.39 418.9L186.21 418.9Z" fill="#22af39"/>
<text x="198.8" y="419.5" font-size="7.8" stroke="#111" stroke-width="0.12" textLength="40" lengthAdjust="spacingAndGlyphs" fill="#111">MCL donor 3</text>
<text x="270" y="383.6" font-size="10.8" stroke="#111" stroke-width="0.45" font-weight="bold" fill="#111">F</text>
<text x="410" y="384.1" font-size="9.5" stroke="#111" stroke-width="0.15" text-anchor="middle" textLength="62.2" lengthAdjust="spacingAndGlyphs" fill="#111">Z-138 xenograft</text>
<path d="M310.8 387.5V520.6H509.4" stroke="#2a2a2a" stroke-width="1.4" fill="none"/>
<path d="M330 520.6V523.4" stroke="#2a2a2a" stroke-width="1.1"/>
<text x="330" y="532" font-size="8.1" stroke="#111" stroke-width="0.1" text-anchor="middle" fill="#111">0</text>
<path d="M369.1 520.6V523.4" stroke="#2a2a2a" stroke-width="1.1"/>
<text x="369.1" y="532" font-size="8.1" stroke="#111" stroke-width="0.1" text-anchor="middle" fill="#111">6</text>
<path d="M408.2 520.6V523.4" stroke="#2a2a2a" stroke-width="1.1"/>
<text x="408.2" y="532" font-size="8.1" stroke="#111" stroke-width="0.1" text-anchor="middle" fill="#111">9</text>
<path d="M447.3 520.6V523.4" stroke="#2a2a2a" stroke-width="1.1"/>
<text x="447.3" y="532" font-size="8.1" stroke="#111" stroke-width="0.1" text-anchor="middle" fill="#111">13</text>
<path d="M486.4 520.6V523.4" stroke="#2a2a2a" stroke-width="1.1"/>
<text x="486.4" y="532" font-size="8.1" stroke="#111" stroke-width="0.1" text-anchor="middle" fill="#111">16</text>
<path d="M310.8 520.2H307.5" stroke="#2a2a2a" stroke-width="1.1"/>
<text x="304.4" y="522.5" font-size="8.1" stroke="#111" stroke-width="0.1" text-anchor="end" fill="#111">0</text>
<path d="M310.8 494.2H307.5" stroke="#2a2a2a" stroke-width="1.1"/>
<text x="304.4" y="496.5" font-size="8.1" stroke="#111" stroke-width="0.1" text-anchor="end" fill="#111">1000</text>
<path d="M310.8 468.2H307.5" stroke="#2a2a2a" stroke-width="1.1"/>
<text x="304.4" y="470.5" font-size="8.1" stroke="#111" stroke-width="0.1" text-anchor="end" fill="#111">2000</text>
<path d="M310.8 442.2H307.5" stroke="#2a2a2a" stroke-width="1.1"/>
<text x="304.4" y="444.5" font-size="8.1" stroke="#111" stroke-width="0.1" text-anchor="end" fill="#111">3000</text>
<path d="M310.8 416.2H307.5" stroke="#2a2a2a" stroke-width="1.1"/>
<text x="304.4" y="418.5" font-size="8.1" stroke="#111" stroke-width="0.1" text-anchor="end" fill="#111">4000</text>
<path d="M310.8 390.2H307.5" stroke="#2a2a2a" stroke-width="1.1"/>
<text x="304.4" y="392.5" font-size="8.1" stroke="#111" stroke-width="0.1" text-anchor="end" fill="#111">5000</text>
<text x="280.4" y="453.9" font-size="9.9" stroke="#111" stroke-width="0.28" text-anchor="middle" textLength="61" lengthAdjust="spacingAndGlyphs" transform="rotate(-90 280.4 453.9)" fill="#111">Tumor volume (mm<tspan font-size="6.2" dy="-3.6">3</tspan><tspan dy="3.6">)</tspan></text>
<text x="410.3" y="543.9" font-size="9.5" stroke="#111" stroke-width="0.3" text-anchor="middle" textLength="13.2" lengthAdjust="spacingAndGlyphs" fill="#111">Days</text>
<path d="M369.1 503.5V511.2M366.8 503.5H371.4M366.8 511.2H371.4" stroke="#64c774" stroke-width="1" fill="none"/>
<path d="M408.2 501.2V512.2M405.9 501.2H410.5M405.9 512.2H410.5" stroke="#64c774" stroke-width="1" fill="none"/>
<path d="M447.3 468.3V499.8M445 468.3H449.6M445 499.8H449.6" stroke="#64c774" stroke-width="1" fill="none"/>
<path d="M486.4 454V495.8M484.1 454H488.7M484.1 495.8H488.7" stroke="#64c774" stroke-width="1" fill="none"/>
<path d="M369.1 493.4V504.9M366.8 493.4H371.4M366.8 504.9H371.4" stroke="#d9546f" stroke-width="1" fill="none"/>
<path d="M408.2 494.8V508.8M405.9 494.8H410.5M405.9 508.8H410.5" stroke="#d9546f" stroke-width="1" fill="none"/>
<path d="M447.3 456.7V487.7M445 456.7H449.6M445 487.7H449.6" stroke="#d9546f" stroke-width="1" fill="none"/>
<path d="M486.4 425.5V472.9M484.1 425.5H488.7M484.1 472.9H488.7" stroke="#d9546f" stroke-width="1" fill="none"/>
<path d="M369.1 489.7V503.5M366.8 489.7H371.4M366.8 503.5H371.4" stroke="#547eaa" stroke-width="1" fill="none"/>
<path d="M408.2 481V495.8M405.9 481H410.5M405.9 495.8H410.5" stroke="#547eaa" stroke-width="1" fill="none"/>
<path d="M447.3 431.2V468.3M445 431.2H449.6M445 468.3H449.6" stroke="#547eaa" stroke-width="1" fill="none"/>
<path d="M486.4 395.7V443.3M484.1 395.7H488.7M484.1 443.3H488.7" stroke="#547eaa" stroke-width="1" fill="none"/>
<path d="M330 512.3 L369.1 507.2 L408.2 504.4 L447.3 484.2 L486.4 474.7" fill="none" stroke="#22af39" stroke-width="1.25" stroke-linejoin="round"/>
<circle cx="330" cy="512.3" r="2.1" fill="#22af39"/>
<circle cx="369.1" cy="507.2" r="2.1" fill="#22af39"/>
<circle cx="408.2" cy="504.4" r="2.1" fill="#22af39"/>
<circle cx="447.3" cy="484.2" r="2.1" fill="#22af39"/>
<circle cx="486.4" cy="474.7" r="2.1" fill="#22af39"/>
<path d="M330 512.3 L369.1 499.6 L408.2 497.9 L447.3 472.1 L486.4 450.2" fill="none" stroke="#c90a31" stroke-width="1.25" stroke-linejoin="round"/>
<circle cx="330" cy="512.3" r="2.1" fill="#c90a31"/>
<circle cx="369.1" cy="499.6" r="2.1" fill="#c90a31"/>
<circle cx="408.2" cy="497.9" r="2.1" fill="#c90a31"/>
<circle cx="447.3" cy="472.1" r="2.1" fill="#c90a31"/>
<circle cx="486.4" cy="450.2" r="2.1" fill="#c90a31"/>
<path d="M330 512.3 L369.1 496.6 L408.2 487.7 L447.3 450 L486.4 419.6" fill="none" stroke="#0b4686" stroke-width="1.25" stroke-linejoin="round"/>
<circle cx="330" cy="512.3" r="2.1" fill="#0b4686"/>
<circle cx="369.1" cy="496.6" r="2.1" fill="#0b4686"/>
<circle cx="408.2" cy="487.7" r="2.1" fill="#0b4686"/>
<circle cx="447.3" cy="450" r="2.1" fill="#0b4686"/>
<circle cx="486.4" cy="419.6" r="2.1" fill="#0b4686"/>
<path d="M319.2 396H332.7" stroke="#0b4686" stroke-width="1.3"/>
<circle cx="326" cy="396" r="1.99" fill="#0b4686"/>
<text x="336.3" y="398.5" font-size="7.8" stroke="#111" stroke-width="0.12" textLength="21.8" lengthAdjust="spacingAndGlyphs" fill="#111">Vehicle</text>
<path d="M319.2 406.5H332.7" stroke="#c90a31" stroke-width="1.3"/>
<circle cx="326" cy="406.5" r="1.99" fill="#c90a31"/>
<text x="336.3" y="409" font-size="7.8" stroke="#111" stroke-width="0.12" textLength="41.8" lengthAdjust="spacingAndGlyphs" fill="#111">30 mg/kg SR</text>
<path d="M319.2 417.1H332.7" stroke="#22af39" stroke-width="1.3"/>
<circle cx="326" cy="417.1" r="1.99" fill="#22af39"/>
<text x="336.3" y="419.6" font-size="7.8" stroke="#111" stroke-width="0.12" textLength="41.8" lengthAdjust="spacingAndGlyphs" fill="#111">40 mg/kg SR</text>
<text x="491.6" y="453.5" font-size="8.1" stroke="#111" stroke-width="0.1" textLength="21.5" lengthAdjust="spacingAndGlyphs" fill="#111">0.0424</text>
<text x="491.6" y="475.9" font-size="8.1" stroke="#111" stroke-width="0.1" textLength="17.7" lengthAdjust="spacingAndGlyphs" fill="#111">0.005</text>
<text x="450" y="477.3" font-size="8.1" stroke="#111" stroke-width="0.1" textLength="21.5" lengthAdjust="spacingAndGlyphs" fill="#111">0.0406</text>
<text x="450" y="494.2" font-size="8.1" stroke="#111" stroke-width="0.1" textLength="21.5" lengthAdjust="spacingAndGlyphs" fill="#111">0.0027</text>
<text x="397.8" y="503.6" font-size="8.1" stroke="#111" stroke-width="0.1" textLength="7.1" lengthAdjust="spacingAndGlyphs" fill="#111">ns</text>
<text x="398.8" y="519" font-size="8.1" stroke="#111" stroke-width="0.1" textLength="21.5" lengthAdjust="spacingAndGlyphs" fill="#111">0.0014</text>
</svg></body></html>
